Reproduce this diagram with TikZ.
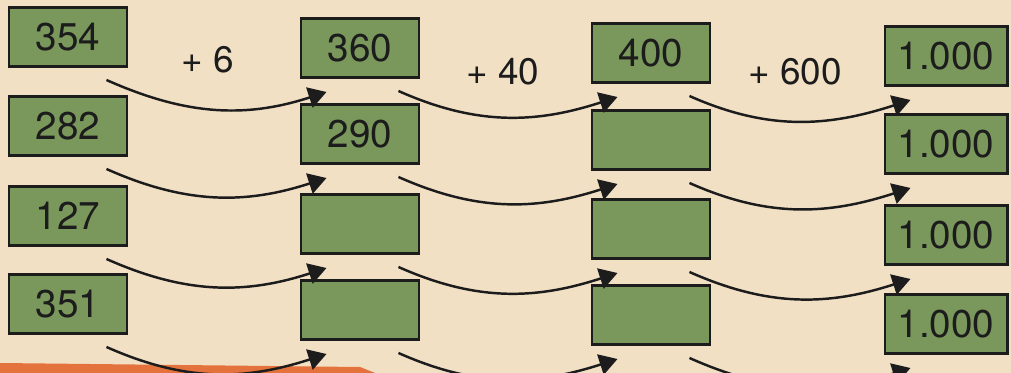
\documentclass[tikz,border=0pt]{standalone}
\usepackage{fontspec}
\setmainfont{TeX Gyre Heros}
\usetikzlibrary{arrows.meta,positioning}

\definecolor{paper}{RGB}{242,224,196}
\definecolor{boxgreen}{RGB}{122,152,92}
\definecolor{ink}{RGB}{28,28,28}
\definecolor{strip}{RGB}{228,114,60}

\tikzset{
  numbox/.style={draw=ink, line width=1.7pt, fill=boxgreen, text=ink,
    minimum width=23.6mm, minimum height=11.8mm, inner sep=0pt,
    font=\fontsize{22}{24}\selectfont},
  oplabel/.style={text=ink, font=\fontsize{21}{24}\selectfont},
  link/.style={draw=ink, line width=1.4pt,
    -{Triangle[length=3.6mm,width=4.2mm]}}
}

\begin{document}
\begin{tikzpicture}[x=0.2mm, y=-0.2mm]

% paper and the orange edge at the bottom
\fill[paper] (0,0) rectangle (1011,373);
\useasboundingbox (0,0) rectangle (1011,373);
\fill[strip] (0,363) -- (360,367) -- (375,373) -- (0,373) -- cycle;

% first column: the starting numbers
\foreach \r/\y/\t in {1/37/354, 2/126/282, 3/216/127, 4/304/351}
  \node[numbox] (a\r) at (68,\y) {\t};

% second column
\foreach \r/\y/\t in {1/48/360, 2/134/290, 3/224/, 4/310/}
  \node[numbox] (b\r) at (360,\y) {\t};

% third column
\foreach \r/\y/\t in {1/53/400, 2/140/, 3/229/, 4/315/}
  \node[numbox] (c\r) at (651,\y) {\t};

% last column, always 1.000
\foreach \r/\y in {1/56, 2/144, 3/235, 4/324}
  \node[numbox, minimum width=24.4mm] (d\r) at (946,\y) {1.000};

% steps between the columns
\node[oplabel] (op1) at (208,60) {+ 6};
\node[oplabel] (op2) at (503,72) {+ 40};
\node[oplabel] (op3) at (795,72) {+ 600};

% arrows from each box to the next one in its row
\foreach \s/\t in {a/b, b/c, c/d}
  \foreach \r in {1,...,4}
    \draw[link] ([xshift=-4.4mm,yshift=-2.4mm]\s\r.south east)
      to[out=-24,in=198] ([xshift=5.4mm,yshift=-2.6mm]\t\r.south west);

\end{tikzpicture}
\end{document}
